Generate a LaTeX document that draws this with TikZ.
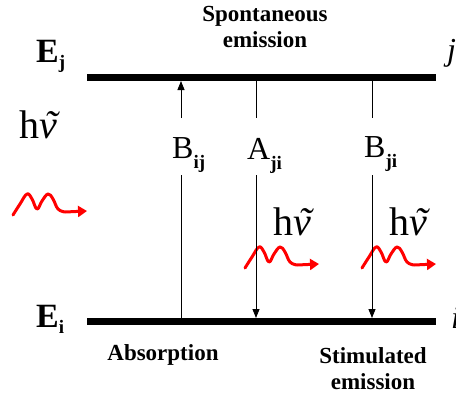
\documentclass[tikz,border=0pt]{standalone}
\usepackage{fontspec}
\setmainfont{Liberation Serif}
\usetikzlibrary{arrows.meta}
\definecolor{PhotRed}{RGB}{255,0,0}
\tikzset{
  lvl/.style={line width=6.5pt},
  trans/.style={line width=0.8pt},
  transarr/.style={trans,-{Triangle[length=9pt,width=7pt]}},
  phot/.style={draw=PhotRed, line width=3pt, line cap=round, line join=round,
    -{Triangle[length=9pt,width=11pt]}},
  enlbl/.style={anchor=base west, inner sep=0pt, font=\fontsize{34}{34}\selectfont\bfseries},
  coef/.style={anchor=base west, inner sep=0pt, font=\fontsize{32}{32}\selectfont},
  hnu/.style={anchor=base, inner sep=0pt, font=\fontsize{40}{40}\selectfont},
  proc/.style={inner sep=0pt, align=center, font=\fontsize{23}{26}\selectfont\bfseries},
  edgelbl/.style={anchor=base west, inner sep=0pt, font=\fontsize{32}{32}\selectfont\itshape},
}
\newcommand{\lowsub}[2][8pt]{\raisebox{-#1}{\fontsize{19}{19}\selectfont\bfseries #2}}
\newcommand{\hnutxt}{h{\itshape\char"03BD\llap{\char"02DC\kern-0.02em}}}
\newcommand{\photon}[2]{%
  \draw[phot,shift={(#1,#2)}] plot[smooth,tension=0.7] coordinates
    {(0,0) (7,-11) (14,-21) (19,-16) (24,-6) (29,-14) (35,-21) (40,-16) (45,-6) (52,-3)}
    -- (74,-4);
}

\begin{document}
\begin{tikzpicture}[x=1pt,y=-1pt]
\useasboundingbox (0,0) rectangle (456,394);
\clip (0,0) rectangle (456,394);

%% levels
\coordinate (jL) at (87,77.5);  \coordinate (jR) at (436,77.5);
\coordinate (iL) at (87,321.5); \coordinate (iR) at (436,321.5);
\draw[lvl] (jL) -- (jR);
\draw[lvl] (iL) -- (iR);

\node[enlbl]   at (36,62)  (Ej){E\lowsub[6pt]{j}};
\node[enlbl]   at (36,327) (Ei){E\lowsub[6pt]{i}};
\node[edgelbl] at (447,60)  (jEdge){j};
\node[edgelbl] at (451,328) (iEdge){i};

%% photons
\photon{13}{215}
\photon{245}{268}
\photon{362}{268}
\node[hnu] at (38,138)  (hvIn){\hnutxt};
\node[hnu] at (292,235) (hvSp){\hnutxt};
\node[hnu] at (408,235) (hvSt){\hnutxt};

%% transitions
\coordinate (ab-i)  at (181,321); \coordinate (ab-lo) at (181,175);
\coordinate (ab-hi) at (181,118); \coordinate (ab-j)  at (181,81);
\coordinate (sp-j)  at (256,80);  \coordinate (sp-hi) at (256,118);
\coordinate (sp-lo) at (256,175); \coordinate (sp-i)  at (256,318);
\coordinate (st-j)  at (372,80);  \coordinate (st-hi) at (372,118);
\coordinate (st-lo) at (372,175); \coordinate (st-i)  at (372,318);

\draw[trans]    (ab-i) -- (ab-lo);
\draw[transarr] (ab-hi) -- (ab-j);
\draw[trans]    (sp-j) -- (sp-hi);
\draw[transarr] (sp-lo) -- (sp-i);
\draw[trans]    (st-j) -- (st-hi);
\draw[transarr] (st-lo) -- (st-i);

\node[coef] at (172,158) (Bij){B\lowsub[10pt]{ij}};
\node[coef] at (247,159) (Aji){A\lowsub[10pt]{ji}};
\node[coef] at (364,157) (Bji){B\lowsub[10pt]{ji}};

%% process names
\node[proc] at (265,27)  (spont){Spontaneous\\emission};
\node[proc,anchor=base] at (163,360) (absorb){Absorption};
\node[proc] at (373,369) (stim){Stimulated\\emission};

\end{tikzpicture}
\end{document}
